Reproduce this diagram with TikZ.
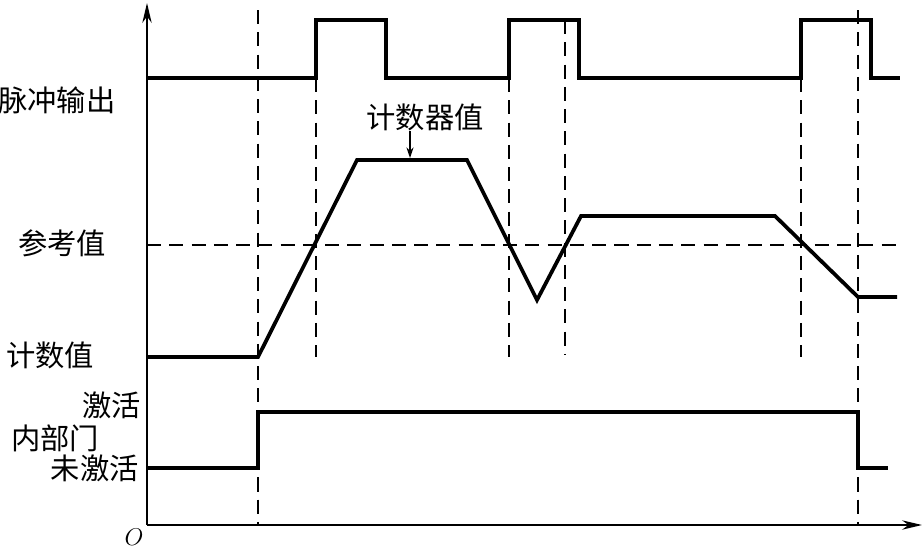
\documentclass[tikz,border=0pt]{standalone}
\usepackage{fontspec}
\newfontfamily\cjk{Noto Sans CJK SC}
\usetikzlibrary{arrows.meta, positioning}

\begin{document}
\begin{tikzpicture}[x=0.03cm, y=-0.03cm,
  lbl/.style={font=\cjk\fontsize{25}{28}\selectfont, inner sep=0pt},
  wave/.style={line width=3.2pt, line join=miter},
  axis/.style={line width=1.6pt, -{Stealth[length=17pt, width=8pt]}},
  guide/.style={line width=1.4pt, dash pattern=on 12pt off 7pt},
  pointer/.style={line width=1.2pt, -{Stealth[length=9pt, width=6pt]}},
]
  \useasboundingbox (0,0) rectangle (923,552);

  % Axes
  \coordinate (orig)  at (147,525);
  \coordinate (ytop)  at (147,3);
  \coordinate (xend)  at (922,525);
  \draw[axis] (orig) -- (ytop);
  \draw[axis] (orig) -- (xend);
  \node[font=\fontsize{21}{24}\selectfont, inner sep=0pt] (o) at (134,537) {$O$};

  % Guide lines
  \draw[guide] (147,245) -- (898,245);
  \draw[guide] (258,10) -- (258,525);
  \draw[guide] (316,78) -- (316,357);
  \draw[guide] (509,78) -- (509,357);
  \draw[guide] (565,20) -- (565,355);
  \draw[guide] (801,78) -- (801,357);
  \draw[guide, line width=1.1pt] (858,10) -- (858,525);

  % Pulse output
  \draw[wave] (147,78) -- (316,78) -- (316,20) -- (386,20) -- (386,78)
    -- (509,78) -- (509,20) -- (579,20) -- (579,78)
    -- (801,78) -- (801,20) -- (871,20) -- (871,78) -- (900,78);

  % Counter value
  \draw[wave] (147,357) -- (258,357) -- (357,160) -- (467,160) -- (537,300)
    -- (581,216) -- (775,216) -- (858,297) -- (897,297);

  % Internal gate
  \draw[wave] (147,468) -- (258,468) -- (258,412) -- (858,412)
    -- (858,468) -- (888,468);

  % Labels
  \node[lbl] (pulse)  at (57,100)  {脉冲输出};
  \node[lbl] (cnt)    at (425,117) {计数器值};
  \coordinate (cntpt) at (410,158);
  \draw[pointer] (cnt.south -| cntpt) -- (cntpt);
  \node[lbl] (ref)    at (62,243)  {参考值};
  \node[lbl] (val)    at (50,355)  {计数值};
  \node[lbl, anchor=east] (act)   at (141,405) {激活};
  \node[lbl] (gate)   at (55,438)  {内部门};
  \node[lbl, anchor=east] (inact) at (139,468) {未激活};
\end{tikzpicture}
\end{document}
